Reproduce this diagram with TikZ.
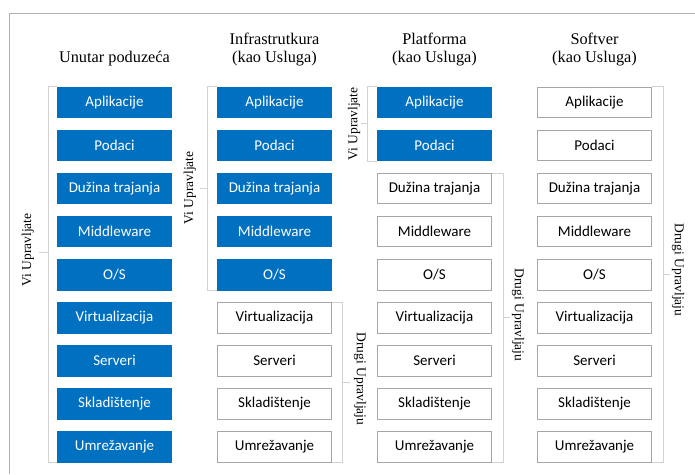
\documentclass[tikz,border=0pt]{standalone}
\usepackage{fontspec}
\setmainfont{Liberation Serif}
\newfontfamily\boxfont{Carlito}
\usepackage{xcolor}
\usepackage{tikz}
\usetikzlibrary{positioning}
\definecolor{ublue}{RGB}{0,112,192}
\tikzset{
  layer/.style={minimum width=114pt, minimum height=30.5pt, inner sep=0pt, line width=0.8pt,
                font=\boxfont\fontsize{15}{17}\selectfont},
  own/.style={layer, fill=ublue, draw=ublue, text=white},
  svc/.style={layer, fill=white, draw=gray!70, text=black},
  heading/.style={inner sep=0pt, anchor=south, align=center, font=\fontsize{16.3}{18.5}\selectfont},
  brk/.style={draw=gray!35, line width=0.6pt},
  side/.style={inner sep=0pt, font=\fontsize{13.5}{15}\selectfont}
}
\begin{document}
\begin{tikzpicture}[x=1pt,y=-1pt]
\useasboundingbox (0,0) rectangle (695,474);
\draw[gray!60, line width=0.6pt] (9,474) -- (9,13) -- (695,13);

% column headings
\node[heading] (h1) at (114.5,66.5) {Unutar poduzeća};
\node[heading] (h2) at (274.5,66.5) {Infrastrutkura\\(kao Usluga)};
\node[heading] (h3) at (434.5,66.5) {Platforma\\(kao Usluga)};
\node[heading] (h4) at (594.5,66.5) {Softver\\(kao Usluga)};

% the stacks
\foreach \c/\nb in {1/9,2/5,3/2,4/0} {
  \foreach \t [count=\r] in {Aplikacije,Podaci,Dužina trajanja,Middleware,O/S,Virtualizacija,Serveri,Skladištenje,Umrežavanje} {
    \ifnum\r>\nb \def\sty{svc}\else \def\sty{own}\fi
    \node[\sty] (k\c-\r) at ({114.5+160*(\c-1)},{102.25+43.1*(\r-1)}) {\t};
  }
}

% brackets
\draw[brk] (k1-1.north west) -- ++(-9,0) |- (k1-9.south west);
\coordinate (m1) at (48,252);
\draw[brk] (m1) -- ++(-9,0);
\node[side, rotate=90] (v1) at (28,250) {Vi Upravljate};

\draw[brk] (k2-1.north west) -- ++(-10,0) |- (k2-5.south west);
\coordinate (m2) at (207.5,188);
\draw[brk] (m2) -- ++(-8,0);
\node[side, rotate=90] (v2) at (190,188) {Vi Upravljate};

\draw[brk] (k2-6.north east) -- ++(10,0) |- (k2-9.south east);
\coordinate (d2) at (341.5,382);
\draw[brk] (d2) -- ++(8,0);
\node[side, rotate=-90] (o2) at (360,379) {Drugi Upravljaju};

\draw[brk] (k3-1.north west) -- ++(-10,0) |- (k3-2.south west);
\coordinate (m3) at (367.5,123.5);
\draw[brk] (m3) -- ++(-7,0);
\node[side, rotate=90] (v3) at (354,124) {Vi Upravljate};

\draw[brk] (k3-3.north east) -- ++(11,0) |- (k3-9.south east);
\coordinate (d3) at (502.5,317.5);
\draw[brk] (d3) -- ++(7,0);
\node[side, rotate=-90] (o3) at (518,315) {Drugi Upravljaju};

\draw[brk] (k4-1.north east) -- ++(11,0) |- (k4-9.south east);
\coordinate (d4) at (662.5,274);
\draw[brk] (d4) -- ++(7,0);
\node[side, rotate=-90] (o4) at (678,270) {Drugi Upravljaju};
\end{tikzpicture}
\end{document}
